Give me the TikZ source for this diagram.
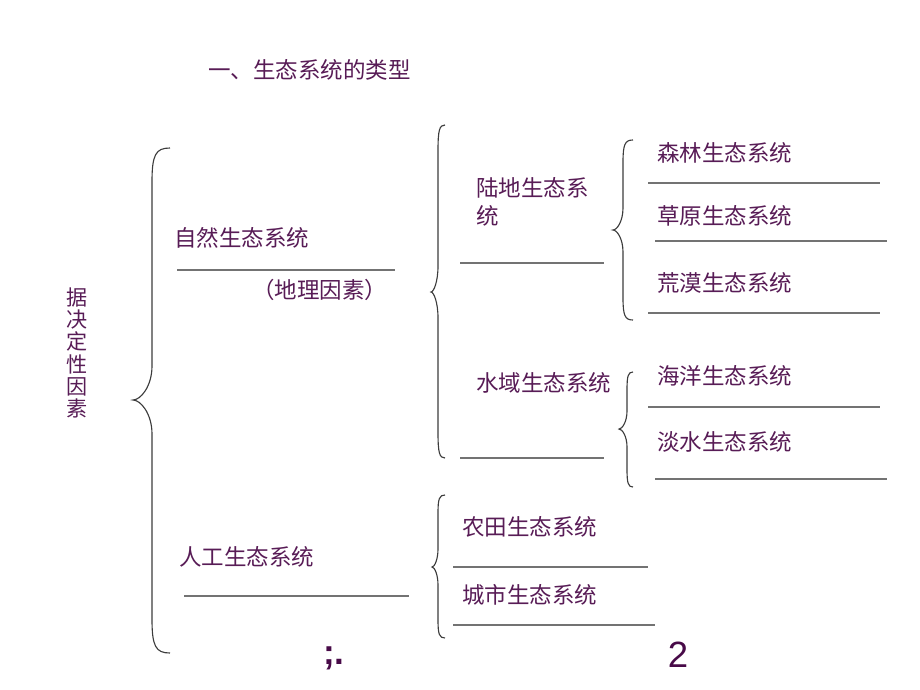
\documentclass[tikz,border=0pt]{standalone}
\usepackage{fontspec}
\setmainfont{Liberation Sans}
\newfontfamily\cjk{Noto Sans CJK SC}
\usepackage{tikz}

\definecolor{inkpurple}{RGB}{88,28,86}
\definecolor{darkpurple}{RGB}{72,10,72}
\definecolor{rulegray}{RGB}{115,115,115}
\definecolor{bracegray}{RGB}{60,60,60}

% curly brace: ends x, spine x, tip x, top y, tip y, bottom y, bend
\newcommand{\drawbrace}[7]{%
  \draw[bracepath] (#1,#4) .. controls ({#2+0.2*(#1-#2)},#4) and (#2,{#4+0.2*#7}) .. (#2,{#4+#7})
    -- (#2,{#5-#7}) .. controls (#2,{#5-0.4*#7}) and ({#3+0.4*(#2-#3)},#5) .. (#3,#5)
    .. controls ({#3+0.4*(#2-#3)},#5) and (#2,{#5+0.4*#7}) .. (#2,{#5+#7})
    -- (#2,{#6-#7}) .. controls (#2,{#6-0.2*#7}) and ({#2+0.2*(#1-#2)},#6) .. (#1,#6);}

\begin{document}
\begin{tikzpicture}[x=0.025cm,y=-0.025cm,
    word/.style={anchor=west,inner sep=0pt,text=inkpurple,
      font=\cjk\fontsize{16pt}{20pt}\selectfont},
    blank/.style={draw=rulegray,line width=1.1pt},
    bracepath/.style={draw=bracegray,line width=0.8pt}]
  \useasboundingbox (0,0) rectangle (920,690);

  % Title and side label
  \node[word] (title) at (208,70) {一、生态系统的类型};
  \node[word,anchor=center,align=center,
    font=\cjk\fontsize{15pt}{15.9pt}\selectfont] (factor) at (77,353)
    {据\\决\\定\\性\\因\\素};

  % Braces
  \drawbrace{170}{152}{133}{148}{400}{653}{34}
  \drawbrace{445}{438}{431}{125}{292}{458}{26}
  \drawbrace{633}{623}{613}{140}{230}{320}{22}
  \drawbrace{633}{627}{619}{372}{429}{487}{18}
  \drawbrace{445}{438}{432}{495}{567}{638}{18}

  % First level
  \node[word] (natural) at (174,238) {自然生态系统};
  \draw[blank] (177,270) -- (395,270);
  \node[word] (geo) at (252,290) {（地理因素）};
  \node[word] (human) at (179,557) {人工生态系统};
  \draw[blank] (184,596) -- (409,596);

  % Second level
  \node[word,align=left,font=\cjk\fontsize{16pt}{20pt}\selectfont]
    (land) at (476,202) {陆地生态系\\统};
  \draw[blank] (460,263) -- (604,263);
  \node[word] (water) at (476,383) {水域生态系统};
  \draw[blank] (460,458) -- (604,458);
  \node[word] (farm) at (462,527) {农田生态系统};
  \draw[blank] (453,567) -- (648,567);
  \node[word] (city) at (462,595) {城市生态系统};
  \draw[blank] (453,625) -- (655,625);

  % Third level
  \node[word] (forest) at (657,153) {森林生态系统};
  \draw[blank] (648,183) -- (880,183);
  \node[word] (grass) at (657,216) {草原生态系统};
  \draw[blank] (655,241) -- (887,241);
  \node[word] (desert) at (657,283) {荒漠生态系统};
  \draw[blank] (648,313) -- (880,313);
  \node[word] (ocean) at (657,376) {海洋生态系统};
  \draw[blank] (648,407) -- (880,407);
  \node[word] (fresh) at (657,442) {淡水生态系统};
  \draw[blank] (655,479) -- (887,479);

  % Bottom marks
  \node[text=darkpurple,inner sep=0pt,font=\bfseries\fontsize{25pt}{28pt}\selectfont]
    (mark) at (334,658) {;.};
  \node[text=darkpurple,inner sep=0pt,font=\fontsize{26pt}{30pt}\selectfont]
    (page) at (678,655) {2};
\end{tikzpicture}
\end{document}
